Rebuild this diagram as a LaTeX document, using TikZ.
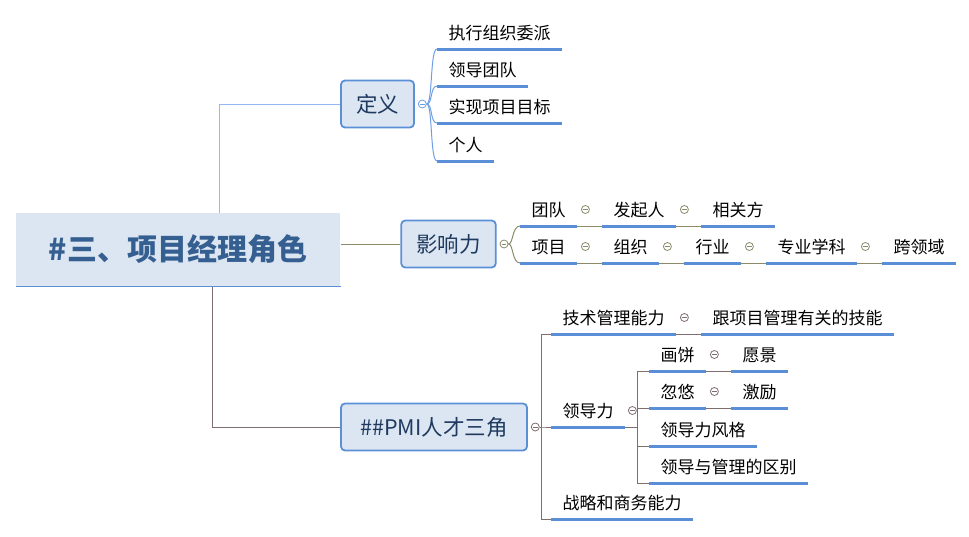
\documentclass[tikz,border=0pt]{standalone}
\usepackage{fontspec}
\setmainfont{Noto Sans CJK SC}
\usetikzlibrary{positioning}
\definecolor{boxfill}{HTML}{DCE6F2}
\definecolor{boxline}{HTML}{5B8FD6}
\definecolor{ulinecol}{HTML}{5A8ED6}
\definecolor{roottext}{HTML}{365F91}
\definecolor{boxtext}{HTML}{1F3A5F}
\definecolor{dyblue}{HTML}{95B8F2}
\definecolor{dycurve}{HTML}{6E9FE4}
\definecolor{yxlgray}{HTML}{8B8B6B}
\definecolor{pmigray}{HTML}{7E6E70}
\tikzset{
  root/.style={rectangle, fill=boxfill, text=roottext, font=\fontsize{30}{36}\selectfont\bfseries,
    minimum width=324pt, minimum height=73pt, inner sep=0pt,
    append after command={(\tikzlastnode.south west) edge[boxline, line width=1.2pt] (\tikzlastnode.south east)}},
  sub/.style={rectangle, rounded corners=4pt, draw=boxline, line width=1.8pt, fill=boxfill, text=boxtext,
    font=\fontsize{21.5}{26}\selectfont, minimum height=47pt, inner xsep=15pt},
  topic/.style={anchor=south west, inner xsep=11pt, inner ysep=0pt, text height=22.5pt, text depth=9.5pt,
    font=\fontsize{17}{20}\selectfont,
    append after command={(\tikzlastnode.south west) edge[ulinecol, line width=3pt] (\tikzlastnode.south east)}},
  fold/.style={circle, draw=#1, fill=white, line width=0.8pt, inner sep=0pt, minimum size=8pt,
    path picture={\draw[#1, line width=0.8pt] ([xshift=-2.2pt]path picture bounding box.center) -- ([xshift=2.2pt]path picture bounding box.center);}},
}
\begin{document}
\begin{tikzpicture}[x=1pt, y=-1pt, line width=1pt]
  \useasboundingbox (0,0) rectangle (969,536);

  % main topics
  \node[root] (root) at (178,249.5) {\#三、项目经理角色};
  \node[sub] (dingyi) at (377.5,104) {定义};
  \node[sub] (yingxiang) at (448.5,244) {影响力};
  \node[sub, minimum width=186pt] (pmi) at (434,427) {\#\#PMI人才三角};
  \node[fold=dycurve, right=3pt of dingyi] (fdingyi) {};
  \node[fold=yxlgray, right=3pt of yingxiang] (fyingxiang) {};
  \node[fold=pmigray, right=3pt of pmi] (fpmi) {};

  \draw[dyblue] ([xshift=41pt]root.north) |- (dingyi.west);
  \draw[yxlgray] (root.east |- yingxiang.west) -- (yingxiang.west);
  \draw[pmigray] ([xshift=34pt]root.south) |- (pmi.west);

  % 定义
  \node[topic] (zhixing) at (437,49) {执行组织委派};
  \node[topic] (lingdao) at (437,86) {领导团队};
  \node[topic] (shixian) at (437,123) {实现项目目标};
  \node[topic] (geren) at (437,161) {个人};
  \foreach \n in {zhixing,lingdao,shixian,geren}
    \draw[dycurve] (fdingyi.east) .. controls +(6,0) and +(-7,0) .. (\n.south west);

  % 影响力
  \node[topic] (tuandui) at (520,226) {团队};
  \node[fold=yxlgray, right=4pt of tuandui] (ftuandui) {};
  \node[topic, right=25pt of tuandui] (faqiren) {发起人};
  \node[fold=yxlgray, right=4pt of faqiren] (ffaqiren) {};
  \node[topic, right=25pt of faqiren] (xiangguan) {相关方};
  \node[topic] (xiangmu) at (520,263) {项目};
  \node[fold=yxlgray, right=4pt of xiangmu] (fxiangmu) {};
  \node[topic, right=25pt of xiangmu] (zuzhi) {组织};
  \node[fold=yxlgray, right=4pt of zuzhi] (fzuzhi) {};
  \node[topic, right=25pt of zuzhi] (hangye) {行业};
  \node[fold=yxlgray, right=4pt of hangye] (fhangye) {};
  \node[topic, right=25pt of hangye] (zhuanye) {专业学科};
  \node[fold=yxlgray, right=4pt of zhuanye] (fzhuanye) {};
  \node[topic, right=25pt of zhuanye] (kualy) {跨领域};
  \foreach \n in {tuandui,xiangmu}
    \draw[yxlgray] (fyingxiang.east) .. controls +(5,0) and +(-8,0) .. (\n.south west);
  \draw[yxlgray] (tuandui.south east) -- (faqiren.south west);
  \draw[yxlgray] (faqiren.south east) -- (xiangguan.south west);
  \draw[yxlgray] (xiangmu.south east) -- (zuzhi.south west);
  \draw[yxlgray] (zuzhi.south east) -- (hangye.south west);
  \draw[yxlgray] (hangye.south east) -- (zhuanye.south west);
  \draw[yxlgray] (zhuanye.south east) -- (kualy.south west);

  % PMI人才三角
  \node[topic] (jishu) at (551,334) {技术管理能力};
  \node[fold=pmigray, right=4pt of jishu] (fjishu) {};
  \node[topic, right=25pt of jishu] (jineng) {跟项目管理有关的技能};
  \node[topic] (ldl) at (551,427) {领导力};
  \node[fold=pmigray, right=3pt of ldl] (fldl) {};
  \node[topic] (zhanlue) at (551,519) {战略和商务能力};
  \foreach \n in {jishu,ldl,zhanlue}
    \draw[pmigray] (fpmi.east) -| ([xshift=-10pt]\n.south west) -- (\n.south west);
  \draw[pmigray] (jishu.south east) -- (jineng.south west);

  % 领导力
  \node[topic] (huabing) at (649,371) {画饼};
  \node[fold=pmigray, right=4pt of huabing] (fhuabing) {};
  \node[topic, right=25pt of huabing] (yuanjing) {愿景};
  \node[topic] (huyou) at (649,408) {忽悠};
  \node[fold=pmigray, right=4pt of huyou] (fhuyou) {};
  \node[topic, right=25pt of huyou] (jili) {激励};
  \node[topic] (fengge) at (649,446) {领导力风格};
  \node[topic] (qubie) at (649,483) {领导与管理的区别};
  \foreach \n in {huabing,huyou,fengge,qubie}
    \draw[pmigray] (ldl.south east) -| ([xshift=-12pt]\n.south west) -- (\n.south west);
  \draw[pmigray] (huabing.south east) -- (yuanjing.south west);
  \draw[pmigray] (huyou.south east) -- (jili.south west);
\end{tikzpicture}
\end{document}
